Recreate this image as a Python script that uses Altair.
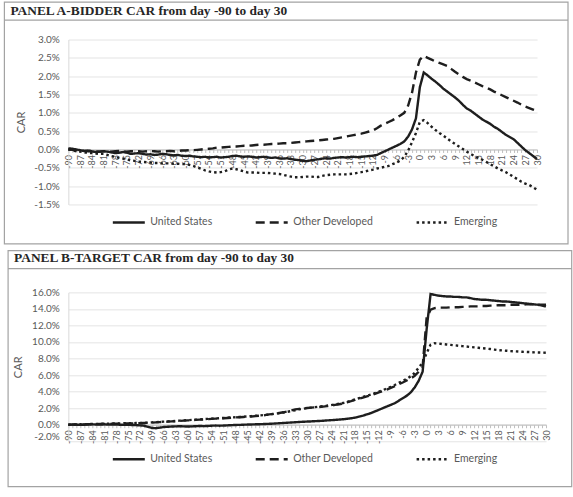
import altair as alt
import pandas as pd

# ---------------------------------------------------------------- data
days = list(range(-90, 31))
series_names = ["United States", "Other Developed", "Emerging"]
y_ticks_a = [-1.5, -1.0, -0.5, 0.0, 0.5, 1.0, 1.5, 2.0, 2.5, 3.0]
y_ticks_b = [-2.0, 0.0, 2.0, 4.0, 6.0, 8.0, 10.0, 12.0, 14.0, 16.0]

# Panel A: bidder CAR (%), days -90 .. 30
bidder_us = [
    0.03, 0.02, 0.00, -0.02, -0.04, -0.03, -0.05, -0.07, -0.06, -0.05,
    -0.06, -0.08, -0.10, -0.09, -0.07, -0.09, -0.12, -0.11, -0.10, -0.12,
    -0.14, -0.13, -0.15, -0.14, -0.12, -0.13, -0.15, -0.16, -0.15, -0.17,
    -0.18, -0.17, -0.19, -0.20, -0.21, -0.20, -0.22, -0.21, -0.20, -0.22,
    -0.21, -0.20, -0.18, -0.17, -0.19, -0.20, -0.19, -0.20, -0.22, -0.21,
    -0.20, -0.22, -0.23, -0.22, -0.24, -0.25, -0.24, -0.26, -0.28, -0.29,
    -0.31, -0.32, -0.30, -0.28, -0.27, -0.25, -0.24, -0.25, -0.23, -0.22,
    -0.21, -0.22, -0.21, -0.20, -0.21, -0.20, -0.19, -0.18, -0.17, -0.15,
    -0.10, -0.05, 0.00, 0.05, 0.10, 0.15, 0.22, 0.35, 0.55, 0.85,
    1.70, 2.10, 2.02, 1.93, 1.85, 1.76, 1.66, 1.58, 1.50, 1.42,
    1.33, 1.22, 1.12, 1.06, 0.98, 0.90, 0.82, 0.76, 0.70, 0.62,
    0.56, 0.48, 0.40, 0.34, 0.28, 0.18, 0.08, -0.02, -0.10, -0.18, -0.26,
]
bidder_od = [
    0.00, -0.01, -0.02, -0.03, -0.04, -0.05, -0.04, -0.05, -0.06, -0.05,
    -0.05, -0.06, -0.05, -0.04, -0.05, -0.06, -0.05, -0.04, -0.05, -0.06,
    -0.05, -0.04, -0.05, -0.06, -0.05, -0.05, -0.04, -0.05, -0.04, -0.03,
    -0.03, -0.02, -0.02, -0.01, 0.00, 0.01, 0.02, 0.03, 0.05, 0.05,
    0.06, 0.07, 0.08, 0.08, 0.09, 0.10, 0.10, 0.11, 0.12, 0.13,
    0.13, 0.14, 0.15, 0.15, 0.16, 0.17, 0.17, 0.18, 0.19, 0.20,
    0.21, 0.22, 0.23, 0.24, 0.25, 0.26, 0.27, 0.28, 0.29, 0.31,
    0.33, 0.35, 0.37, 0.39, 0.41, 0.43, 0.46, 0.49, 0.52, 0.58,
    0.65, 0.70, 0.75, 0.80, 0.86, 0.93, 1.00, 1.20, 1.55, 2.10,
    2.45, 2.55, 2.50, 2.45, 2.40, 2.36, 2.32, 2.28, 2.20, 2.12,
    2.05, 1.98, 1.92, 1.88, 1.83, 1.78, 1.73, 1.69, 1.64, 1.58,
    1.53, 1.48, 1.43, 1.38, 1.33, 1.28, 1.22, 1.17, 1.13, 1.09, 1.05,
]
bidder_em = [
    0.00, -0.02, -0.05, -0.06, -0.08, -0.09, -0.10, -0.11, -0.12, -0.12,
    -0.15, -0.18, -0.20, -0.23, -0.25, -0.27, -0.30, -0.31, -0.33, -0.34,
    -0.35, -0.36, -0.37, -0.37, -0.38, -0.38, -0.38, -0.39, -0.39, -0.40,
    -0.40, -0.42, -0.45, -0.49, -0.53, -0.57, -0.60, -0.62, -0.63, -0.62,
    -0.60, -0.55, -0.52, -0.54, -0.57, -0.60, -0.63, -0.63, -0.63, -0.64,
    -0.64, -0.64, -0.65, -0.66, -0.67, -0.69, -0.72, -0.74, -0.76, -0.76,
    -0.75, -0.74, -0.74, -0.75, -0.75, -0.72, -0.70, -0.69, -0.68, -0.68,
    -0.68, -0.68, -0.67, -0.66, -0.64, -0.62, -0.60, -0.57, -0.55, -0.52,
    -0.50, -0.47, -0.45, -0.40, -0.36, -0.30, -0.20, -0.03, 0.20, 0.45,
    0.75, 0.80, 0.72, 0.62, 0.53, 0.45, 0.38, 0.30, 0.22, 0.15,
    0.08, 0.01, -0.06, -0.12, -0.18, -0.23, -0.28, -0.34, -0.40, -0.46,
    -0.52, -0.57, -0.62, -0.68, -0.75, -0.81, -0.88, -0.93, -0.97, -1.03, -1.10,
]

# Panel B: target CAR (%), days -90 .. 30
target_us = [
    0.00, 0.02, 0.01, -0.02, 0.00, 0.03, 0.05, 0.03, 0.02, 0.04,
    0.03, 0.01, 0.02, 0.00, -0.02, -0.01, -0.03, -0.05, -0.08, -0.12,
    -0.25, -0.40, -0.42, -0.35, -0.28, -0.25, -0.22, -0.20, -0.18, -0.20,
    -0.22, -0.20, -0.18, -0.15, -0.17, -0.15, -0.12, -0.10, -0.12, -0.10,
    -0.08, -0.05, -0.03, -0.02, 0.00, 0.02, 0.03, 0.05, 0.06, 0.08,
    0.10, 0.12, 0.15, 0.18, 0.21, 0.24, 0.27, 0.30, 0.33, 0.36,
    0.38, 0.40, 0.43, 0.45, 0.48, 0.52, 0.55, 0.58, 0.62, 0.66,
    0.72, 0.78, 0.85, 0.98, 1.10, 1.25, 1.40, 1.60, 1.80, 2.00,
    2.20, 2.40, 2.60, 2.90, 3.20, 3.50, 3.90, 4.50, 5.30, 6.40,
    11.50, 15.80, 15.70, 15.60, 15.55, 15.50, 15.50, 15.45, 15.45, 15.40,
    15.40, 15.30, 15.20, 15.15, 15.10, 15.10, 15.05, 15.00, 14.95, 14.90,
    14.90, 14.85, 14.80, 14.75, 14.70, 14.65, 14.60, 14.55, 14.50, 14.40, 14.30,
]
target_od = [
    0.00, 0.01, 0.02, 0.03, 0.04, 0.05, 0.06, 0.07, 0.08, 0.09,
    0.10, 0.11, 0.12, 0.13, 0.14, 0.15, 0.16, 0.17, 0.18, 0.20,
    0.22, 0.25, 0.28, 0.31, 0.34, 0.37, 0.40, 0.43, 0.46, 0.49,
    0.52, 0.55, 0.58, 0.61, 0.64, 0.67, 0.70, 0.73, 0.76, 0.79,
    0.82, 0.85, 0.88, 0.91, 0.94, 0.97, 1.00, 1.04, 1.08, 1.12,
    1.22, 1.28, 1.35, 1.42, 1.50, 1.60, 1.72, 1.85, 1.92, 1.98,
    2.02, 2.06, 2.10, 2.14, 2.19, 2.25, 2.32, 2.40, 2.48, 2.56,
    2.70, 2.84, 3.00, 3.14, 3.28, 3.42, 3.56, 3.72, 3.90, 4.05,
    4.25, 4.45, 4.65, 4.90, 5.10, 5.35, 5.60, 5.90, 6.40, 7.00,
    12.90, 13.90, 14.10, 14.15, 14.15, 14.15, 14.20, 14.20, 14.20, 14.25,
    14.25, 14.30, 14.30, 14.30, 14.35, 14.35, 14.40, 14.40, 14.45, 14.45,
    14.45, 14.50, 14.50, 14.50, 14.50, 14.55, 14.55, 14.55, 14.50, 14.50, 14.50,
]
target_em = [
    0.00, 0.02, 0.03, 0.05, 0.06, 0.08, 0.09, 0.10, 0.11, 0.12,
    0.13, 0.14, 0.15, 0.16, 0.17, 0.18, 0.19, 0.20, 0.21, 0.23,
    0.25, 0.28, 0.31, 0.34, 0.37, 0.40, 0.43, 0.46, 0.49, 0.52,
    0.55, 0.58, 0.61, 0.64, 0.67, 0.70, 0.73, 0.76, 0.79, 0.82,
    0.85, 0.88, 0.91, 0.94, 0.97, 1.00, 1.04, 1.08, 1.12, 1.16,
    1.21, 1.27, 1.33, 1.40, 1.48, 1.56, 1.65, 1.75, 1.85, 1.93,
    2.00, 2.06, 2.12, 2.18, 2.24, 2.30, 2.37, 2.45, 2.53, 2.62,
    2.75, 2.90, 3.05, 3.20, 3.35, 3.50, 3.65, 3.82, 4.00, 4.18,
    4.38, 4.58, 4.80, 5.05, 5.30, 5.55, 5.85, 6.25, 6.90, 7.50,
    8.64, 9.66, 9.85, 9.82, 9.75, 9.70, 9.65, 9.60, 9.55, 9.50,
    9.45, 9.40, 9.35, 9.30, 9.25, 9.20, 9.15, 9.08, 9.02, 8.98,
    8.95, 8.90, 8.88, 8.85, 8.82, 8.80, 8.78, 8.75, 8.73, 8.72, 8.70,
]

# ---------------------------------------------------------------- style
INK = "#1e1e1e"
TEXT = "#595959"
FRAME = "#a3a3a3"
GRID = "#e4e4e4"
AXIS = "#bfbfbf"
SANS = "Lato"
SERIF = "Liberation Serif"
dash_range = [[1, 0], [9, 5], [2.5, 3]]


def long_frame(us, od, em):
    rows = []
    for name, vals in zip(series_names, (us, od, em)):
        for d, v in zip(days, vals):
            rows.append({"day": d, "series": name, "car": v / 100.0, "order": series_names.index(name)})
    return pd.DataFrame(rows)


def panel(df, title, width, height, y_ticks, frame, title_pos, legend_pos, title_pad, low_label_shift=0):
    left, top, right, bottom, bar_bottom = frame
    y_min, y_max = y_ticks[0] / 100.0, y_ticks[-1] / 100.0
    zero_offset = -height * (0 - y_min) / (y_max - y_min)
    one = pd.DataFrame({"k": [0]})

    box = alt.Chart(one).mark_rect(fillOpacity=0, stroke=FRAME, strokeWidth=1.2).encode(
        x=alt.value(left), x2=alt.value(right), y=alt.value(top), y2=alt.value(bottom)
    )
    bar = alt.Chart(one).mark_rule(color=FRAME, strokeWidth=1.2).encode(
        x=alt.value(left), x2=alt.value(right), y=alt.value(bar_bottom)
    )
    heading = alt.Chart(one).mark_text(
        align="left", baseline="alphabetic", font=SERIF, fontWeight="bold",
        fontSize=13.4, color="#262626"
    ).encode(x=alt.value(title_pos[0]), y=alt.value(title_pos[1]), text=alt.value(title))

    # the bottom tick label sits a little closer to the zero line
    label_offset = {
        "condition": {"test": f"datum.value <= {y_min + 1e-9}", "value": low_label_shift},
        "value": 0,
    }

    lines = alt.Chart(df).mark_line(strokeWidth=2.4, color=INK).encode(
        x=alt.X(
            "day:Q",
            scale=alt.Scale(domain=[days[0], days[-1]], nice=False, zero=False),
            axis=alt.Axis(
                title=None, values=days, grid=False, offset=zero_offset,
                labelExpr="datum.value % 3 == 0 ? '' + datum.value : ''",
                labelAngle=270, labelFont=SANS, labelFontSize=9, labelColor=TEXT,
                labelPadding=2, labelOverlap=False, labelFlush=False, labelBound=False,
                tickSize=3, tickColor=AXIS, domainColor=AXIS, domainWidth=1,
            ),
        ),
        y=alt.Y(
            "car:Q",
            scale=alt.Scale(domain=[y_min, y_max], nice=False, zero=False),
            axis=alt.Axis(
                title="CAR", values=[t / 100.0 for t in y_ticks],
                labelExpr="replace(format(datum.value, '.1%'), '\u2212', '-')",
                ticks=False, grid=True, gridColor=GRID, gridWidth=1,
                domainColor="#d9d9d9", labelFont=SANS, labelFontSize=10,
                labelColor=TEXT, labelPadding=9, labelOffset=label_offset,
                labelOverlap=False, labelFlush=False, labelBound=False,
                titleFont=SANS, titleFontSize=11,
                titleFontWeight="normal", titleColor=TEXT, titlePadding=title_pad,
            ),
        ),
        strokeDash=alt.StrokeDash(
            "series:N",
            scale=alt.Scale(domain=series_names, range=dash_range),
            legend=alt.Legend(
                title=None, orient="none", legendX=legend_pos[0], legendY=legend_pos[1],
                direction="horizontal", symbolType="stroke", symbolSize=1024,
                symbolStrokeWidth=2.5, symbolStrokeColor=INK, labelFont=SANS,
                labelFontSize=10.5, labelColor=TEXT, columnPadding=38, labelOffset=4,
                gridAlign="none", padding=0,
            ),
        ),
        order="order:Q",
    )
    return alt.layer(box, bar, heading, lines).properties(width=width, height=height)


bidder = long_frame(bidder_us, bidder_od, bidder_em)
target = long_frame(target_us, target_od, target_em)

panel_a = panel(
    bidder, "PANEL A-BIDDER CAR from day -90 to day 30", 469, 165, y_ticks_a,
    frame=(-64, -37.5, 500, 204.5, -19.5), title_pos=(-58, -24.2),
    legend_pos=(43, 165.5), title_pad=7,
)
panel_b = panel(
    target, "PANEL B-TARGET CAR from day -90 to day 30", 478, 149, y_ticks_b,
    frame=(-60.3, -41.7, 503.7, 194.3, -23.7), title_pos=(-54.3, -30),
    legend_pos=(43, 149.5), title_pad=8, low_label_shift=-5,
)

chart = (
    alt.vconcat(panel_a, panel_b, spacing=4)
    .resolve_scale(x="independent", y="independent", strokeDash="independent")
    .resolve_legend(strokeDash="independent")
    .configure_view(stroke="transparent")
    .properties(padding={"left": 2.4, "top": 0.4, "right": 0, "bottom": 0}, background="white")
)

chart.save("out.html", embed_options={"renderer": "svg", "actions": False})
